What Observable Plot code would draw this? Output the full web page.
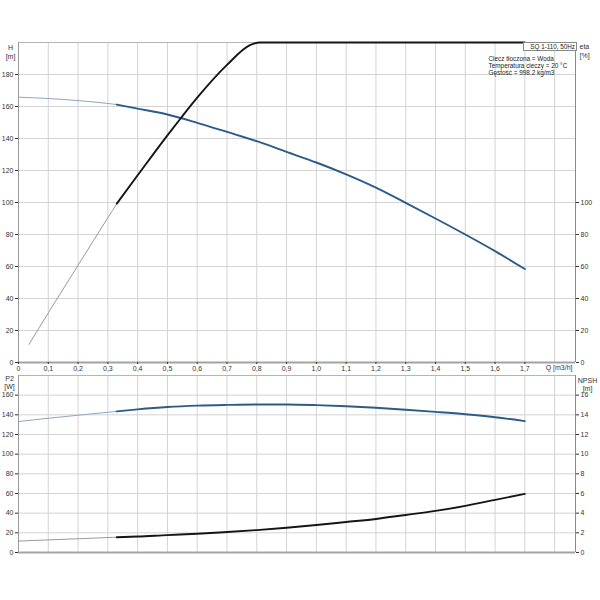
<!DOCTYPE html>
<html>
<head>
<meta charset="utf-8">
<script src="https://cdn.jsdelivr.net/npm/d3@7"></script>
<script src="https://cdn.jsdelivr.net/npm/@observablehq/plot@0.6"></script>
<style>
  body { margin: 0; background: #fff; font-family: "Liberation Sans", Arial, sans-serif; }
  #wrap { position: relative; width: 600px; height: 600px; overflow: hidden; }
  #top, #bot { position: absolute; left: 0; }
  #top { top: 0; }
  #bot { top: 365px; }
  #box { position: absolute; left: 523px; top: 42px; width: 51px; height: 7px; border: 1px solid #8a8a8a;
         font-size: 6.3px; line-height: 7px; text-align: right; color: #222; padding-right: 1px; box-sizing: content-box; background: #fff; }
</style>
</head>
<body>
<div id="wrap">
  <div id="top"></div>
  <div id="bot"></div>
  <div id="box"></div>
</div>
<script>
// ---------- data ----------
const qSplit = 0.33;   // start of the thick (operating) part of each curve
const qMax = 1.87;

// H [m] vs Q [m3/h]
const qH = [0, 0.1, 0.2, 0.3, 0.33, 0.4, 0.5, 0.6, 0.7, 0.8, 0.9, 1.0, 1.1, 1.2, 1.3, 1.4, 1.5, 1.6, 1.7];
const hValues = [165.8, 165, 163.7, 161.9, 161.2, 158.7, 155, 149.8, 144.1, 138.3, 131.6, 125, 117.6, 109.3, 99.8, 90, 80, 69.6, 58.4];

// eta [%] (drawn on the same scale, clipped at top of frame)
const qEta = [0.035, 0.1, 0.2, 0.3, 0.33, 0.4, 0.5, 0.544, 0.6, 0.7, 0.777, 0.81, 1.7];
const etaValues = [11.3, 31, 60.8, 90.5, 99.3, 117, 142, 152.5, 165.5, 186, 198.3, 200, 200];

// P2 [W] vs Q
const qP = [0, 0.1, 0.2, 0.3, 0.33, 0.4, 0.5, 0.6, 0.7, 0.8, 0.9, 1.0, 1.1, 1.2, 1.3, 1.4, 1.5, 1.6, 1.7];
const p2Values = [133.2, 136.5, 139.6, 142.6, 143.5, 145.6, 148, 149.4, 150.1, 150.5, 150.5, 149.9, 148.8, 147.2, 145.2, 143, 140.6, 137.6, 133.6];

// NPSH [m] vs Q
const npshValues = [1.16, 1.28, 1.4, 1.52, 1.55, 1.62, 1.77, 1.9, 2.08, 2.28, 2.52, 2.79, 3.1, 3.41, 3.82, 4.23, 4.74, 5.35, 5.96];
const npshToW = 10; // NPSH axis 0..16 m sits on P2 axis 0..160 W

// ticks / labels
const qTicks = [0, 0.1, 0.2, 0.3, 0.4, 0.5, 0.6, 0.7, 0.8, 0.9, 1.0, 1.1, 1.2, 1.3, 1.4, 1.5, 1.6, 1.7];
const qTickLabels = ["0", "0,1", "0,2", "0,3", "0,4", "0,5", "0,6", "0,7", "0,8", "0,9", "1,0", "1,1", "1,2", "1,3", "1,4", "1,5", "1,6", "1,7"];
const qGrid = [0.1, 0.2, 0.3, 0.4, 0.5, 0.6, 0.7, 0.8, 0.9, 1.0, 1.1, 1.2, 1.3, 1.4, 1.5, 1.6, 1.7, 1.8];
const hTicks = [0, 20, 40, 60, 80, 100, 120, 140, 160, 180];
const etaTicks = [0, 20, 40, 60, 80, 100];
const p2Ticks = [0, 20, 40, 60, 80, 100, 120, 140, 160];
const npshTicks = [0, 2, 4, 6, 8, 10, 12, 14, 16];

const titleText = "SQ 1-110, 50Hz";
const infoText = ["Ciecz tłoczona = Woda", "Temperatura cieczy = 20 °C", "Gęstość = 998.2 kg/m3"];
const qLabel = "Q [m3/h]";
const hLabel = "H\n[m]";
const etaLabel = "eta\n[%]";
const p2Label = "P2\n[W]";
const npshLabel = "NPSH\n[m]";

// ---------- build ----------
const blue = "#2c5b8a", blueThin = "#8ea6bf", black = "#151515", grayThin = "#9a9a9a";
const gridColor = "#d3d3d3";
const font = "'Liberation Sans', Arial, sans-serif";

const hData = qH.map((q, i) => ({q, v: hValues[i]}));
const etaData = qEta.map((q, i) => ({q, v: etaValues[i]}));
const p2Data = qP.map((q, i) => ({q, v: p2Values[i]}));
const npshData = qP.map((q, i) => ({q, v: npshValues[i] * npshToW}));

function curve(data, thinColor, thickColor) {
  return [
    Plot.line(data.filter(d => d.q <= qSplit), {x: "q", y: "v", stroke: thinColor, strokeWidth: 1, curve: "monotone-x"}),
    Plot.line(data.filter(d => d.q >= qSplit), {x: "q", y: "v", stroke: thickColor, strokeWidth: 1.9, curve: "monotone-x"})
  ];
}

const topChart = Plot.plot({
  width: 600, height: 375,
  marginTop: 42, marginBottom: 13, marginLeft: 18, marginRight: 25,
  style: {background: "transparent", fontFamily: font, fontSize: "7px", color: "#333"},
  x: {domain: [0, qMax]},
  y: {domain: [0, 200]},
  marks: [
    Plot.gridX(qGrid, {stroke: gridColor, strokeOpacity: 1}),
    Plot.gridY(hTicks.filter(d => d > 0), {stroke: gridColor, strokeOpacity: 1}),
    Plot.ruleY([200], {stroke: "#b5b5b5"}),
    Plot.ruleX([0], {stroke: "#9a9a9a"}),
    Plot.ruleX([qMax], {stroke: "#8a8a8a"}),
    Plot.ruleY([0], {stroke: "#a3a3a3", strokeWidth: 2}),
    Plot.axisY(hTicks, {anchor: "left", tickSize: 3, tickPadding: 2, label: null}),
    Plot.axisY(etaTicks, {anchor: "right", tickSize: 3, tickPadding: 2, label: null}),
    Plot.axisX(qTicks, {anchor: "bottom", tickSize: 2, tickPadding: 2, label: null,
      tickFormat: d => qTickLabels[qTicks.indexOf(d)]}),
    ...curve(hData, blueThin, blue),
    ...curve(etaData, grayThin, black),
    Plot.text([qLabel], {frameAnchor: "bottom-right", textAnchor: "end", dx: -3, dy: 7, fill: "#333"}),
    Plot.text([hLabel], {frameAnchor: "top-left", textAnchor: "middle", lineAnchor: "top", dx: -8, dy: 1, lineHeight: 1.3, fill: "#333"}),
    Plot.text([etaLabel], {frameAnchor: "top-right", textAnchor: "start", lineAnchor: "top", dx: 4, dy: 1, lineHeight: 1.2, fill: "#333"}),
    Plot.text([infoText.join("\n")], {frameAnchor: "top-right", textAnchor: "start", lineAnchor: "top", dx: -87, dy: 13, fontSize: 6.4, lineHeight: 1.1, fill: "#222"})
  ]
});
document.getElementById("top").appendChild(topChart);

const botChart = Plot.plot({
  width: 600, height: 192,
  marginTop: 10, marginBottom: 5, marginLeft: 18, marginRight: 25,
  style: {background: "transparent", fontFamily: font, fontSize: "7px", color: "#333"},
  x: {domain: [0, qMax], axis: null},
  y: {domain: [0, 180]},
  marks: [
    Plot.gridX(qGrid, {stroke: gridColor, strokeOpacity: 1}),
    Plot.gridY(p2Ticks.filter(d => d > 0), {stroke: gridColor, strokeOpacity: 1}),
    Plot.ruleY([180], {stroke: "#b5b5b5"}),
    Plot.ruleX([0], {stroke: "#9a9a9a"}),
    Plot.ruleX([qMax], {stroke: "#8a8a8a"}),
    Plot.ruleY([0], {stroke: "#a3a3a3", strokeWidth: 2}),
    Plot.axisY(p2Ticks, {anchor: "left", tickSize: 3, tickPadding: 2, label: null}),
    Plot.axisY(npshTicks.map(d => d * npshToW), {anchor: "right", tickSize: 3, tickPadding: 2, label: null,
      tickFormat: d => String(d / npshToW)}),
    ...curve(p2Data, blueThin, blue),
    ...curve(npshData, grayThin, black),
    Plot.text([p2Label], {frameAnchor: "top-left", textAnchor: "middle", lineAnchor: "top", dx: -9, dy: -1, lineHeight: 1.25, fill: "#333"}),
    Plot.text([npshLabel], {frameAnchor: "top-right", textAnchor: "middle", lineAnchor: "top", dx: 12, dy: 1, lineHeight: 1.25, fill: "#333"})
  ]
});
document.getElementById("bot").appendChild(botChart);

document.getElementById("box").textContent = titleText;
</script>
</body>
</html>
